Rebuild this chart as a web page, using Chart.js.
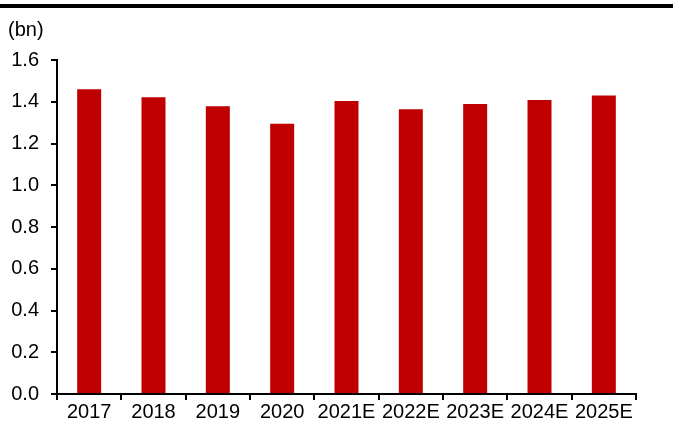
<!DOCTYPE html>
<html>
<head>
<meta charset="utf-8">
<script src="https://cdn.jsdelivr.net/npm/chart.js@4"></script>
<style>
  body { margin: 0; background: #fff; }
  #wrap { position: relative; width: 673px; height: 428px; }
  #topline { position: absolute; left: 0; top: 4px; width: 673px; height: 4px; background: #000; }
</style>
</head>
<body>
<div id="wrap">
  <div id="topline"></div>
  <canvas id="chart" width="673" height="428"></canvas>
</div>
<script>
// chart data
const years = ['2017', '2018', '2019', '2020', '2021E', '2022E', '2023E', '2024E', '2025E']
const values = [1.46, 1.422, 1.378, 1.295, 1.403, 1.364, 1.389, 1.408, 1.43]
const unitLabel = '(bn)'

const font = { family: '"Liberation Sans", Arial, sans-serif', size: 20 }

const ctx = document.getElementById('chart')
const myChart = new Chart(ctx, {
  type: 'bar',
  data: {
    labels: years,
    datasets: [
      {
        data: values,
        backgroundColor: '#c00000',
        borderWidth: 0,
        barPercentage: 0.373,
        categoryPercentage: 1,
      },
    ],
  },
  options: {
    responsive: false,
    animation: false,
    layout: { padding: { left: 8, right: 37, top: 0, bottom: 4 } },
    scales: {
      x: {
        grid: { drawOnChartArea: false, color: '#000', lineWidth: 2, tickLength: 6, offset: true },
        border: { color: '#000', width: 2 },
        ticks: { color: '#000', font: font, padding: 0, autoSkip: false, maxRotation: 0 },
      },
      y: {
        min: 0,
        max: 1.6,
        afterFit: (axis) => { axis.width = 49 },
        grid: { drawOnChartArea: false, color: '#000', lineWidth: 2, tickLength: 6 },
        border: { color: '#000', width: 2 },
        ticks: {
          stepSize: 0.2,
          color: '#000',
          font: font,
          padding: 12,
          callback: (v) => v.toFixed(1),
        },
      },
    },
    plugins: {
      legend: { display: false },
      tooltip: { enabled: false },
      title: {
        display: true,
        text: unitLabel,
        align: 'start',
        color: '#000',
        font: { family: font.family, size: 20, weight: 'normal' },
        padding: { top: 18, bottom: 18 },
      },
    },
  },
})
</script>
</body>
</html>
